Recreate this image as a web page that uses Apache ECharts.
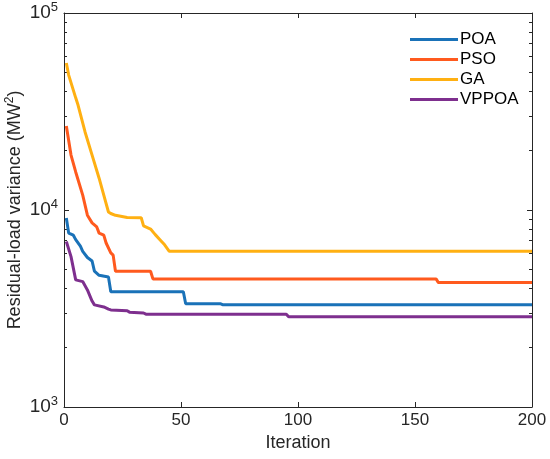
<!DOCTYPE html>
<html>
<head>
<meta charset="utf-8">
<script src="https://cdn.jsdelivr.net/npm/echarts@6/dist/echarts.min.js"></script>
<style>
  html, body { margin: 0; padding: 0; background: #ffffff; }
  #main { width: 550px; height: 459px; }
</style>
</head>
<body>
<div id="main"></div>
<script>
    // convergence curves, [iteration, residual-load variance]
    var poaData = [[1, 9100], [2, 7630], [4, 7450], [5, 7070], [7, 6550], [8, 6170], [10, 5740], [12, 5510],
        [13, 4890], [15, 4660], [19, 4570], [20, 3850], [51, 3850], [52, 3340], [67, 3340], [68, 3300], [200, 3300]];
    var psoData = [[1, 26700], [3, 19000], [5, 15600], [8, 11900], [10, 9410], [12, 8600], [14, 8200], [15, 7630],
        [17, 7450], [18, 6800], [20, 6060], [21, 5900], [22, 4890], [37, 4890], [38, 4470], [159, 4470], [160, 4280], [200, 4280]];
    var gaData = [[1, 55700], [2, 48400], [5, 37100], [6, 34100], [9, 24900], [12, 19000], [15, 14500], [17, 11900],
        [19, 9770], [20, 9600], [22, 9400], [27, 9170], [33, 9130], [34, 8300], [37, 8000], [39, 7500], [41, 7070],
        [43, 6660], [45, 6170], [200, 6170]];
    var vppoaData = [[1, 6920], [3, 5800], [5, 4420], [8, 4330], [10, 3930], [12, 3450], [13, 3300], [17, 3220],
        [19, 3140], [20, 3110], [27, 3080], [28, 3030], [34, 3000], [35, 2960], [95, 2960], [96, 2870], [200, 2870]];

    var seriesNames = ['POA', 'PSO', 'GA', 'VPPOA'];
    var seriesColors = ['#1a72b8', '#ff5a1e', '#ffb012', '#7e2f8e'];

    var xTicks = [0, 50, 100, 150, 200];
    var yMajorTicks = [1000, 10000, 100000];
    var yMinorTicks = [2000, 3000, 4000, 5000, 6000, 7000, 8000, 9000,
        20000, 30000, 40000, 50000, 60000, 70000, 80000, 90000];

    var axisColor = '#262626';
    var fontName = "'Liberation Sans', Arial, sans-serif";

    var chart = echarts.init(document.getElementById('main'));

    function yAxisDef(pos, ticks, len, showLine, showLabel) {
        return {
            type: 'log',
            logBase: 10,
            min: 1000,
            max: 100000,
            position: pos,
            axisLine: { show: showLine, lineStyle: { color: axisColor, width: 1 } },
            axisTick: { show: true, inside: true, length: len, customValues: ticks, lineStyle: { color: axisColor } },
            splitLine: { show: false },
            axisLabel: {
                show: showLabel,
                margin: 6,
                customValues: yMajorTicks,
                fontSize: 19,
                color: axisColor,
                fontFamily: fontName,
                formatter: function (v) {
                    return '{b|10}{s|' + Math.round(Math.log10(v)) + '}';
                },
                rich: {
                    b: { fontSize: 19, fontFamily: fontName, color: axisColor, lineHeight: 22 },
                    s: { fontSize: 13, fontFamily: fontName, color: axisColor, padding: [0, 0, 11, 0] }
                }
            }
        };
    }

    function xAxisDef(pos, showLabel) {
        return {
            type: 'value',
            min: 0,
            max: 200,
            interval: 50,
            position: pos,
            axisLine: { show: true, onZero: false, lineStyle: { color: axisColor, width: 1 } },
            axisTick: { show: true, inside: true, length: 5, lineStyle: { color: axisColor } },
            splitLine: { show: false },
            axisLabel: {
                show: showLabel,
                customValues: xTicks,
                margin: 5,
                fontSize: 17,
                color: axisColor,
                fontFamily: fontName
            }
        };
    }

    var series = [poaData, psoData, gaData, vppoaData].map(function (d, i) {
        return {
            name: seriesNames[i],
            type: 'line',
            xAxisIndex: 0,
            yAxisIndex: 0,
            data: d,
            showSymbol: false,
            symbol: 'none',
            lineStyle: { width: 3, color: seriesColors[i] },
            itemStyle: { color: seriesColors[i] },
            z: 10 - i
        };
    });

    var xBottom = xAxisDef('bottom', true);
    xBottom.name = 'Iteration';
    xBottom.nameLocation = 'middle';
    xBottom.nameGap = 26;
    xBottom.nameTextStyle = { fontSize: 18, color: axisColor, fontFamily: fontName };

    var yLeft = yAxisDef('left', yMajorTicks, 5, true, true);
    yLeft.name = '{n|Residual-load variance (MW}{s|2}{n|)}';
    yLeft.nameLocation = 'middle';
    yLeft.nameGap = 38;
    yLeft.nameMoveOverlap = false;
    yLeft.nameTextStyle = {
        fontSize: 18,
        rich: {
            n: { fontSize: 18, fontFamily: fontName, color: axisColor, lineHeight: 22 },
            s: { fontSize: 12, fontFamily: fontName, color: axisColor, padding: [0, 0, 10, 0] }
        }
    };

    chart.setOption({
        animation: false,
        backgroundColor: '#ffffff',
        grid: {
            left: 64,
            right: 18,
            top: 13,
            bottom: 52,
            containLabel: false,
            outerBoundsMode: 'none'
        },
        legend: {
            orient: 'vertical',
            left: 405,
            top: 26,
            icon: 'rect',
            itemWidth: 48,
            itemHeight: 3,
            itemGap: 3,
            data: seriesNames,
            textStyle: { fontSize: 17, color: '#000000', fontFamily: fontName, padding: [0, 0, 0, -3] }
        },
        xAxis: [xBottom, xAxisDef('top', false)],
        yAxis: [
            yLeft,
            yAxisDef('left', yMinorTicks, 3, false, false),
            yAxisDef('right', yMajorTicks, 5, true, false),
            yAxisDef('right', yMinorTicks, 3, false, false)
        ],
        series: series
    });
</script>
</body>
</html>
